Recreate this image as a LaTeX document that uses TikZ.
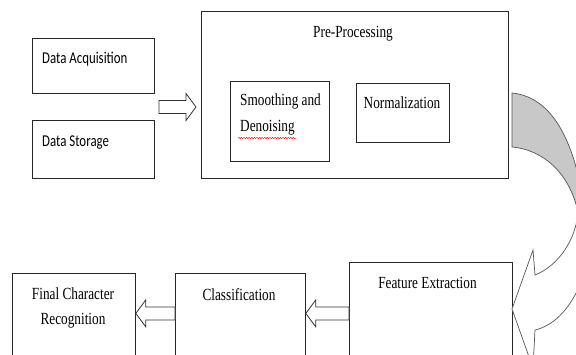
\documentclass[tikz,border=0pt]{standalone}
\usepackage{fontspec}
\usetikzlibrary{calc,decorations.pathmorphing}
\newfontfamily\diagserif[FakeStretch=0.78]{Liberation Serif}
\newfontfamily\diagcalib[FakeStretch=0.78]{Carlito}
\definecolor{bandgray}{RGB}{200,200,200}
\definecolor{edgegray}{RGB}{85,85,85}
\tikzset{
  box/.style={draw=black!85, line width=0.8pt, inner sep=0pt, anchor=north west},
  serifText/.style={font=\diagserif\fontsize{17}{25.5}\selectfont, inner sep=0pt},
  calibText/.style={font=\diagcalib\fontsize{16.5}{20}\selectfont, inner sep=0pt},
  blockline/.style={draw=black!80, line width=0.8pt, fill=white}
}
% hollow block arrow from tail #1 to tip #2 (same height)
\newcommand{\hollowarrow}[2]{%
  \path[blockline] let \p1=(#1), \p2=(#2), \n1={sign(\x2-\x1)} in
    (\x1,\y1+6.5) -- ({\x2-10*\n1},\y1+6.5) -- ({\x2-10*\n1},\y1+13.5) -- (\x2,\y1)
    -- ({\x2-10*\n1},\y1-13.5) -- ({\x2-10*\n1},\y1-6.5) -- (\x1,\y1-6.5) -- cycle;}
\begin{document}
\begin{tikzpicture}[x=1pt, y=-1pt]
    \useasboundingbox (0,0) rectangle (576,354);
    \clip (0,0) rectangle (576,354);

    % Input boxes
    \node[box, minimum width=122pt, minimum height=55pt] (dacq) at (32,38) {};
    \node[box, minimum width=122pt, minimum height=58pt] (dstore) at (32,120) {};
    \node[calibText, anchor=base west] (dacqT) at (42,63.3) {Data Acquisition};
    \node[calibText, anchor=base west] (dstoreT) at (42,146.7) {Data Storage};

    % Pre-processing with its two steps
    \node[box, minimum width=307pt, minimum height=167pt] (pre) at (201,11) {};
    \node[box, minimum width=99pt, minimum height=80pt] (smooth) at (230,81) {};
    \node[box, minimum width=93pt, minimum height=59pt] (norm) at (356,83) {};
    \node[serifText, anchor=base] (preT) at (353,37.5) {Pre-Processing};
    \node[serifText, anchor=north west, align=left] (smoothT) at (240,94) {Smoothing and\\Denoising};
    \node[serifText, anchor=base] (normT) at (402,108) {Normalization};
    \draw[red, line width=0.5pt, decorate, decoration={snake, amplitude=0.6pt, segment length=2.6pt}] (238,138) -- (296,138);

    % Lower row
    \node[box, minimum width=163pt, minimum height=102pt] (feat) at (349,262) {};
    \node[box, minimum width=130pt, minimum height=90pt] (clas) at (175,273) {};
    \node[box, minimum width=123pt, minimum height=90pt] (final) at (12,273) {};
    \node[serifText, anchor=base] (featT) at (427.5,288) {Feature Extraction};
    \node[serifText, anchor=base] (clasT) at (239,300) {Classification};
    \node[serifText, anchor=north, align=center] (finalT) at (73,287) {Final Character\\Recognition};

    % Block arrows
    \coordinate (a1tail) at (159,107);
    \coordinate (a1tip) at (196,107);
    \hollowarrow{a1tail}{a1tip}
    \hollowarrow{feat.west}{clas.east |- feat.west}
    \hollowarrow{clas.west |- feat.west}{final.east |- feat.west}

    % Curved arrow, back half shaded
    \filldraw[fill=bandgray, draw=edgegray, line width=0.7pt] (512,147) -- (512,93)
        .. controls (552,97) and (574,140) .. (584,205) -- (578,212)
        .. controls (570,175) and (545,150) .. (512,147) -- cycle;
    % front half with the head
    \filldraw[fill=white, draw=edgegray, line width=0.7pt] (578,212)
        .. controls (576,240) and (558,266) .. (535,275) -- (533,250) -- (512,309)
        -- (533,368) -- (535,330) .. controls (552,326) and (568,312) .. (580,285)
        -- (600,285) -- (600,205) -- cycle;
\end{tikzpicture}
\end{document}
